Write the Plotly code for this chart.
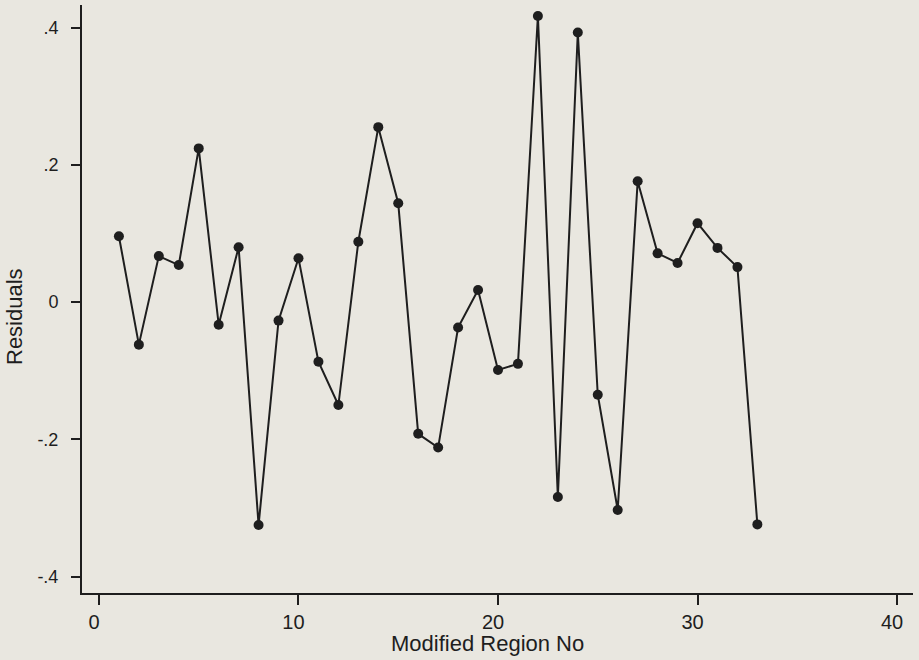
import plotly.graph_objects as go

region_no = list(range(1, 34))
residuals = [0.096, -0.062, 0.067, 0.054, 0.224, -0.033, 0.080, -0.325, -0.027, 0.064,
             -0.087, -0.150, 0.088, 0.255, 0.144, -0.192, -0.212, -0.037, 0.0175, -0.099,
             -0.090, 0.417, -0.284, 0.393, -0.135, -0.303, 0.176, 0.071, 0.057, 0.115,
             0.079, 0.051, -0.324]
x_ticks = [0, 10, 20, 30, 40]
y_ticks = [-0.4, -0.2, 0, 0.2, 0.4]
y_tick_labels = ["-.4", "-.2", "0", ".2", ".4"]

ink = "#1e1e1e"
bg = "#e9e7e0"
font = "Liberation Sans, Arial, Helvetica, sans-serif"

fig = go.Figure(go.Scatter(
    x=region_no, y=residuals, mode="lines+markers",
    line=dict(color=ink, width=2),
    marker=dict(color=ink, size=10),
    showlegend=False,
))

fig.update_layout(
    width=919, height=660,
    margin=dict(l=82, r=6, t=5, b=67),
    paper_bgcolor=bg, plot_bgcolor=bg,
    font=dict(family=font, size=18, color=ink),
)
fig.update_xaxes(
    range=[-0.85, 40.8], tickvals=x_ticks, ticktext=[str(v) for v in x_ticks],
    showline=True, linecolor=ink, linewidth=2, mirror=False,
    ticks="outside", ticklen=10, tickwidth=2, tickcolor=ink,
    showgrid=False, zeroline=False, automargin=False,
    tickfont=dict(size=20), ticklabelshift=-5, ticklabelstandoff=0,
)
fig.update_yaxes(
    range=[-0.424, 0.433], tickvals=y_ticks, ticktext=y_tick_labels,
    showline=True, linecolor=ink, linewidth=2, mirror=False,
    ticks="outside", ticklen=9, tickwidth=2, tickcolor=ink,
    showgrid=False, zeroline=False, automargin=False,
    tickfont=dict(size=18), ticklabelstandoff=9,
)
fig.add_annotation(
    text="Modified Region No", xref="paper", yref="paper",
    x=(487 - 82) / (919 - 88), y=-(643 - 593) / (660 - 72),
    xanchor="center", yanchor="middle", showarrow=False,
    font=dict(size=22, color=ink),
)
fig.add_annotation(
    text="Residuals", xref="paper", yref="paper", textangle=-90,
    x=-(82 - 15) / (919 - 88), y=(593 - 317) / (660 - 72),
    xanchor="center", yanchor="middle", showarrow=False,
    font=dict(size=22, color=ink),
)

fig.write_html(
    "out.html",
    config={"displayModeBar": False},
    post_script="document.body.style.margin='0';document.body.style.background='#e9e7e0';",
)
